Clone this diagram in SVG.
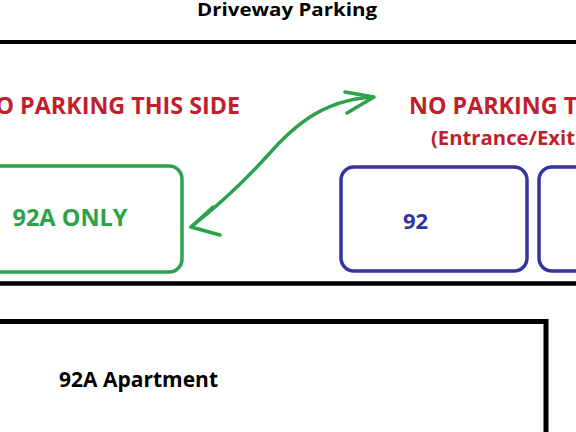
<svg xmlns="http://www.w3.org/2000/svg" width="576" height="432" viewBox="0 0 576 432">
<style>
text{font-family:"Open Sans","Noto Sans","Liberation Sans",sans-serif;font-weight:bold}
.red{fill:#c0202d}
.bay{fill:none;stroke-width:3.5}
.arrow{fill:none;stroke:#2ca24c;stroke-width:3.5;stroke-linecap:round;stroke-linejoin:round}
</style>
<rect width="576" height="432" fill="#fff"/>
<text x="197" y="16" font-size="18" textLength="180" lengthAdjust="spacingAndGlyphs" fill="#000">Driveway Parking</text>
<line x1="0" y1="42" x2="576" y2="42" stroke="#000" stroke-width="4"/>
<line x1="0" y1="283.5" x2="576" y2="283.5" stroke="#000" stroke-width="4.5"/>
<text class="red" x="240" y="114" text-anchor="end" font-size="23.3">NO PARKING THIS SIDE</text>
<text class="red" x="409" y="114" font-size="23.3">NO PARKING THIS SIDE</text>
<text class="red" x="431" y="145" font-size="20.3">(Entrance/Exit)</text>
<g id="bay-92a">
<rect class="bay" x="-20" y="166" width="202" height="106" rx="13" stroke="#2ca24c"/>
<text x="12.5" y="226" font-size="23.5" fill="#2ca24c">92A ONLY</text>
</g>
<g id="bay-92">
<rect class="bay" x="341" y="167" width="186" height="104" rx="13" stroke="#3434a0"/>
<text x="403" y="229" font-size="22" fill="#3434a0">92</text>
</g>
<g id="bay-right">
<rect class="bay" x="539" y="167" width="186" height="104" rx="13" stroke="#3434a0"/>
</g>
<g id="apartment">
<rect x="-10" y="321.5" width="556" height="200" fill="none" stroke="#000" stroke-width="5"/>
<text x="59" y="387" font-size="21" fill="#000">92A Apartment</text>
</g>
<g id="connectors">
<path class="arrow" d="M191,227 C225,200 250,175 268,155 C290,130 320,100 373,97"/>
<path class="arrow" d="M213,207 L191,227 L220,235"/>
<path class="arrow" d="M345,92 L374,97 L347,113"/>
</g>
</svg>
